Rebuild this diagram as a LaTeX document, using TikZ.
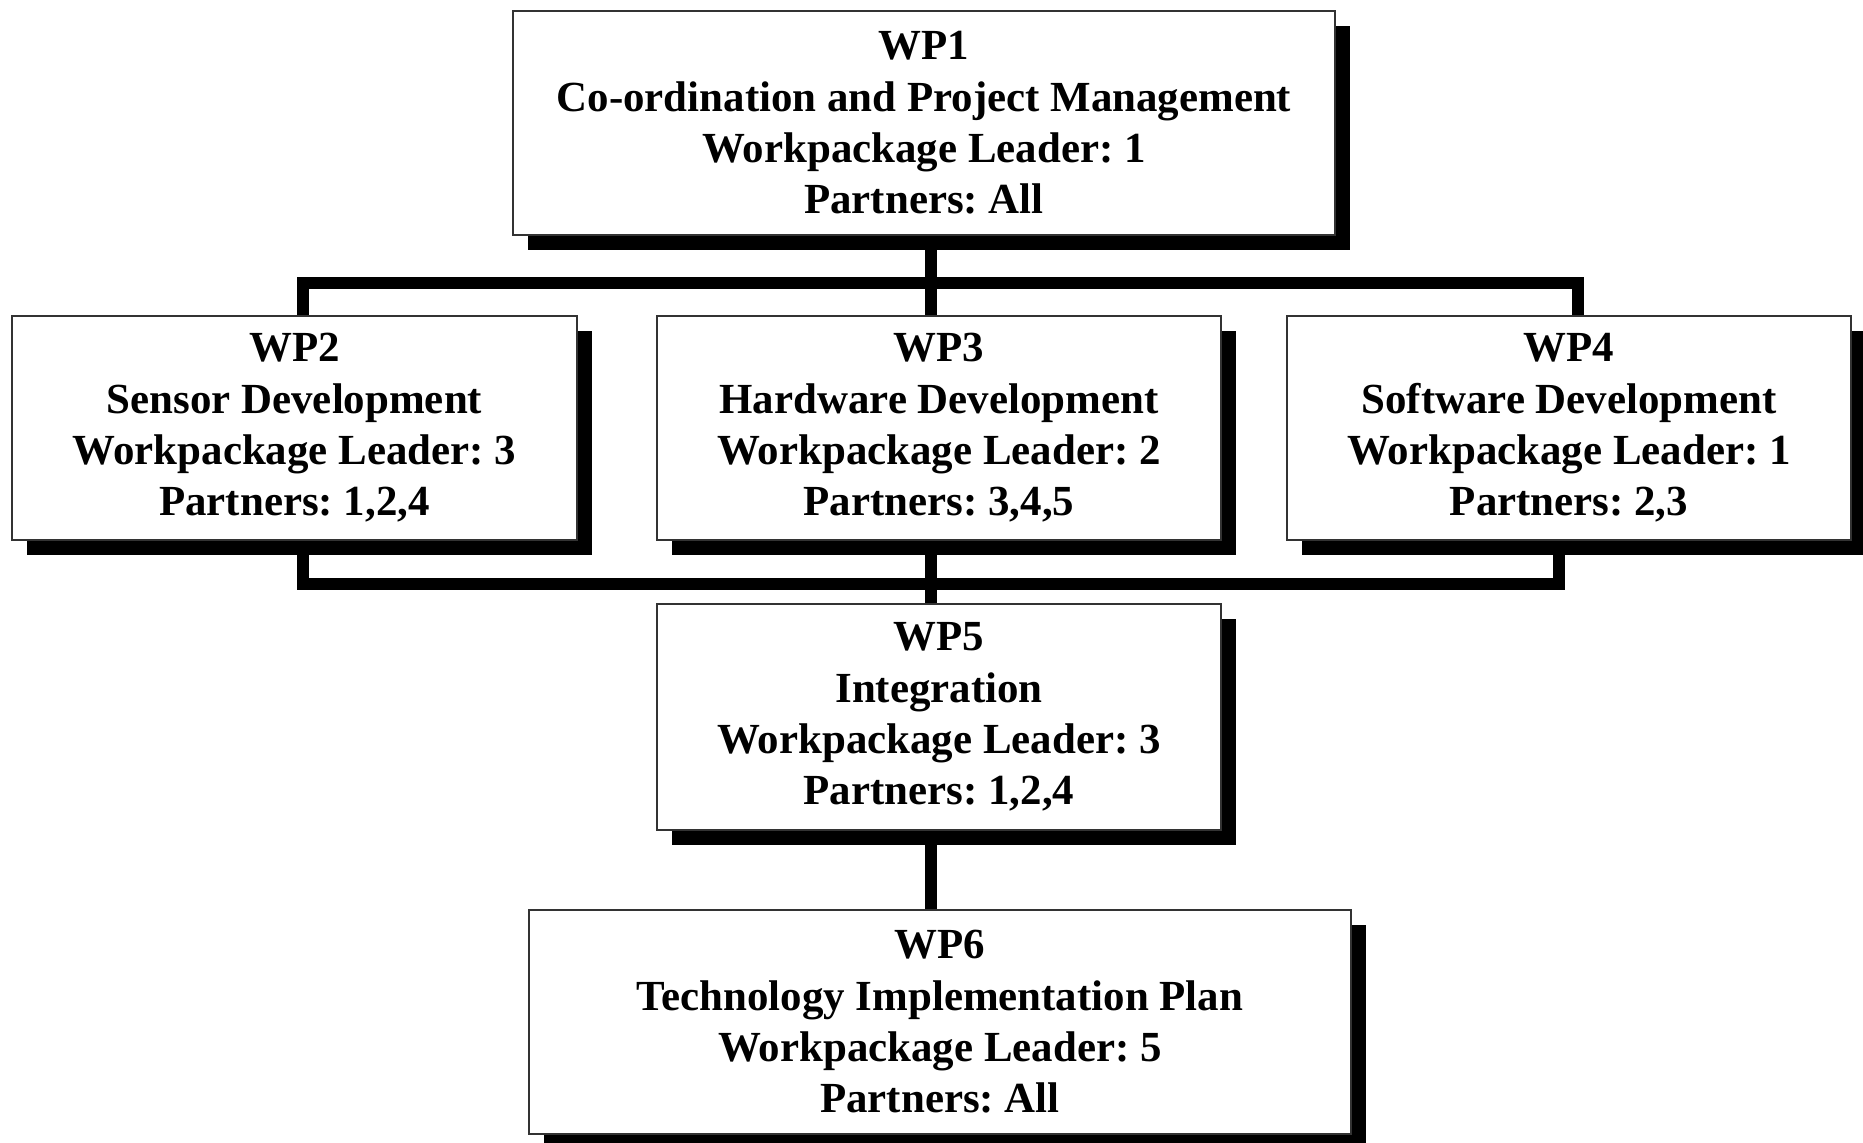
\documentclass[tikz,border=0pt]{standalone}
\usepackage{fontspec}
\setmainfont{Liberation Serif}
\usepackage{tikz}
\usetikzlibrary{shadows, backgrounds}
\frenchspacing

\tikzset{
  wpbox/.style={draw=black!80, line width=0.6pt, fill=white, align=center,
    minimum width=5.64cm, minimum height=2.23cm, inner sep=0pt,
    font=\bfseries\fontsize{12.2}{14.6}\selectfont,
    drop shadow={shadow xshift=0.15cm, shadow yshift=-0.15cm, fill=black, opacity=1}},
  widebox/.style={wpbox, minimum width=8.22cm},
  bus/.style={line width=3.4pt, black}
}

\begin{document}
\begin{tikzpicture}[x=0.01cm, y=-0.01cm]
        \useasboundingbox (0,0) rectangle (1863,1143);

        % Bus points
        \coordinate (trunk) at (931,283);
        \coordinate (busL) at (303,283);
        \coordinate (busR) at (1578,283);
        \coordinate (lowC) at (931,584);
        \coordinate (lowL) at (303,584);
        \coordinate (lowR) at (1559,584);

        % Nodes
        \node[widebox] (wp1) at (924,123) {WP1\\Co-ordination and Project Management\\Workpackage Leader: 1\\Partners: All};
        \node[wpbox] (wp2) at (294.5,428) {WP2\\Sensor Development\\Workpackage Leader: 3\\Partners: 1,2,4};
        \node[wpbox] (wp3) at (939,428) {WP3\\Hardware Development\\Workpackage Leader: 2\\Partners: 3,4,5};
        \node[wpbox] (wp4) at (1569,428) {WP4\\Software Development\\Workpackage Leader: 1\\Partners: 2,3};
        \node[wpbox, minimum height=2.25cm] (wp5) at (939,717) {WP5\\Integration\\Workpackage Leader: 3\\Partners: 1,2,4};
        \node[widebox] (wp6) at (940,1022) {WP6\\Technology Implementation Plan\\Workpackage Leader: 5\\Partners: All};

        % Edges
        \begin{scope}[on background layer]
        \draw[bus] (wp1.south -| trunk) -- (wp3.north -| trunk);
        \draw[bus] (wp2.north -| busL) |- (busR) -- (wp4.north -| busR);
        \draw[bus] (wp2.south -| lowL) |- (lowR) -- (wp4.south -| lowR);
        \draw[bus] (wp3.south -| lowC) -- (wp5.north -| lowC);
        \draw[bus] (wp5.south -| lowC) -- (wp6.north -| lowC);
        \end{scope}

\end{tikzpicture}
\end{document}
